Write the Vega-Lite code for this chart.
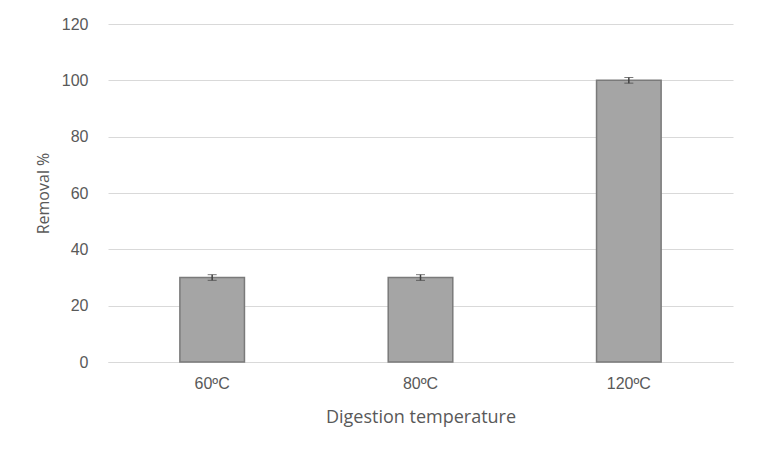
{
  "$schema": "https://vega.github.io/schema/vega-lite/v6.json",
  "autosize": "none",
  "width": 625,
  "height": 338,
  "padding": {"left": 108, "top": 24, "right": 25, "bottom": 95},
  "background": "white",
  "config": {
    "view": {"stroke": null},
    "font": "Liberation Sans"
  },
  "data": {"values": [
    {"temp": "60ºC", "removal": 30, "low": 29, "high": 31},
    {"temp": "80ºC", "removal": 30, "low": 29, "high": 31},
    {"temp": "120ºC", "removal": 100, "low": 99, "high": 101}
  ]},
  "encoding": {
    "x": {"field": "temp", "type": "nominal", "sort": null,
      "scale": {"paddingInner": 0.69, "paddingOuter": 0.345},
      "axis": {"title": "Digestion temperature", "labelAngle": 0, "ticks": false, "domainColor": "#d9d9d9", "labelPadding": 13, "titlePadding": 17, "labelFont": "Liberation Sans", "labelFontSize": 16, "titleFont": "Open Sans", "titleFontSize": 18, "labelColor": "#595959", "titleColor": "#595959", "titleFontWeight": "normal"}}
  },
  "layer": [
    {
      "mark": {"type": "bar", "fill": "#a5a5a5", "stroke": "#7a7a7a", "strokeWidth": 1.5},
      "encoding": {
        "y": {"field": "removal", "type": "quantitative",
          "scale": {"domain": [0, 120]},
          "axis": {"title": "Removal %", "values": [0, 20, 40, 60, 80, 100, 120], "ticks": false, "domain": false, "gridColor": "#d9d9d9", "labelPadding": 20, "titlePadding": 10, "labelFont": "Liberation Sans", "labelFontSize": 16, "titleFont": "Open Sans", "titleFontSize": 16, "labelColor": "#595959", "titleColor": "#595959", "titleFontWeight": "normal"}}
      }
    },
    {
      "mark": {"type": "errorbar", "ticks": {"size": 9, "color": "#404040", "strokeWidth": 1.5}, "rule": {"color": "#404040", "strokeWidth": 1.5}},
      "encoding": {
        "y": {"field": "low", "type": "quantitative", "title": "Removal %"},
        "y2": {"field": "high"}
      }
    }
  ]
}
